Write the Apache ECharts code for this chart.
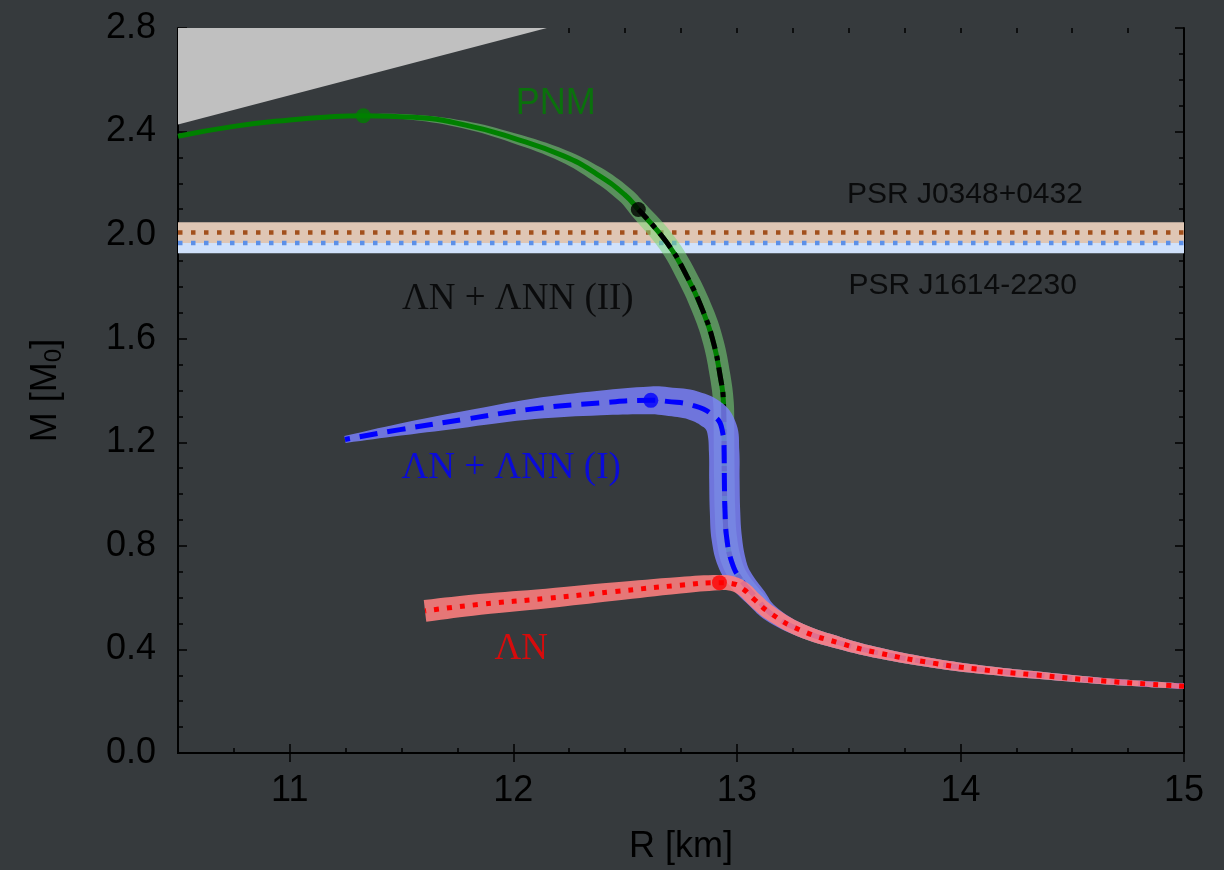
<!DOCTYPE html>
<html>
<head>
<meta charset="utf-8">
<script src="https://cdn.jsdelivr.net/npm/echarts@6/dist/echarts.min.js"></script>
<style>
  html, body { margin: 0; padding: 0; background: #363a3d; }
  #chart { width: 1224px; height: 870px; }
</style>
</head>
<body>
<div id="chart"></div>
<script>
// Mass–radius relations of neutron stars with hyperons (R in km, M in solar masses).

const xTicks = [11, 12, 13, 14, 15];

// Low-mass branch shared by every model
const commonR   = [15.0, 14.625, 14.327, 14.103, 13.879, 13.641, 13.462, 13.283];
const commonM   = [0.258, 0.279, 0.302, 0.321, 0.347, 0.385, 0.424, 0.475];
const commonErr = [0.012, 0.014, 0.017, 0.019, 0.021, 0.024, 0.027, 0.030]; // band half-width, km

// Pure neutron matter
const pnmR = [13.15, 13.089, 13.014, 12.977, 12.955, 12.947, 12.944, 12.943, 12.942, 12.94, 12.925, 12.895,
              12.851, 12.776, 12.687, 12.559, 12.497, 12.373, 12.224, 12.0, 11.777, 11.553, 11.329, 11.18,
              11.0, 10.75, 10.5];
const pnmM = [0.540, 0.597, 0.674, 0.738, 0.828, 0.931, 1.059, 1.162, 1.26, 1.354, 1.457, 1.586,
              1.701, 1.842, 1.971, 2.099, 2.157, 2.236, 2.306, 2.375, 2.427, 2.455, 2.461, 2.457,
              2.445, 2.420, 2.382];
const pnmErr = [0.031, 0.036, 0.040, 0.045, 0.046, 0.046, 0.046, 0.046, 0.046, 0.046, 0.046, 0.046,
                0.046, 0.045, 0.043, 0.040, 0.037, 0.034, 0.028, 0.022, 0.017, 0.012, 0.007, 0.0,
                0.0, 0.0, 0.0];

// ΛN + ΛNN (II)
const lam2R = [13.15, 13.089, 13.014, 12.977, 12.955, 12.947, 12.944, 12.943, 12.942, 12.94, 12.925, 12.895,
               12.851, 12.776, 12.687, 12.559];
const lam2M = [0.540, 0.597, 0.674, 0.738, 0.828, 0.931, 1.059, 1.162, 1.26, 1.354, 1.457, 1.586,
               1.701, 1.842, 1.971, 2.099];

// ΛN + ΛNN (I)
const lam1R = [13.15, 13.089, 13.014, 12.977, 12.955, 12.947, 12.944, 12.943, 12.933, 12.895, 12.806, 12.687,
               12.615, 12.388, 12.09, 11.792, 11.493, 11.247];
const lam1M = [0.540, 0.597, 0.674, 0.738, 0.828, 0.931, 1.059, 1.162, 1.252, 1.303, 1.342, 1.358,
               1.362, 1.352, 1.329, 1.290, 1.249, 1.211];
const lam1Err = [0.038, 0.047, 0.056, 0.064, 0.068, 0.068, 0.068, 0.068, 0.068, 0.068, 0.066, 0.064,
                 0.062, 0.055, 0.046, 0.037, 0.027, 0.016];

// ΛN only
const lamR = [13.15, 13.075, 13.03, 12.98, 12.922, 12.746, 12.448, 12.15, 11.851, 11.605];
const lamM = [0.540, 0.595, 0.632, 0.654, 0.658, 0.648, 0.623, 0.597, 0.574, 0.549];
const lamErr = [0.033, 0.033, 0.033, 0.033, 0.034, 0.037, 0.041, 0.044, 0.047, 0.049];

// Causality-excluded region boundary
const causalR = [10.5, 12.15];
const causalM = [2.427, 2.8];

// Measured pulsar masses
const pulsarNames = ['PSR J0348+0432', 'PSR J1614-2230'];
const pulsarMass  = [2.01, 1.97];
const pulsarErr   = [0.04, 0.04];

const X_MIN = 10.5, X_MAX = 15;
const SANS = '"Liberation Sans", Arial, Helvetica, sans-serif';
const SERIF = '"Liberation Serif", "Times New Roman", serif';

const pulsarBandColors = ['#dfc6b4', '#d0e1fb'];
const pulsarLineColors = ['#a2501c', '#5c90e8'];

function full(branchR, branchM) {
  return commonR.map((r, i) => [r, commonM[i]]).concat(branchR.map((r, i) => [r, branchM[i]]));
}
function fullErr(branchErr) { return commonErr.concat(branchErr); }

const pnm = full(pnmR, pnmM), lam2 = full(lam2R, lam2M), lam1 = full(lam1R, lam1M), lam = full(lamR, lamM);

function argmaxPoint(pts) {
  let best = pts[0];
  pts.forEach(p => { if (p[1] >= best[1]) best = p; });
  return best;
}

// Translucent uncertainty band drawn around a curve, with square ends
function bandSeries(pts, errs, fill, z) {
  return {
    type: 'custom', z: z, silent: true, clip: true,
    data: [pts[0]],
    renderItem: function (params, api) {
      const px = pts.map(p => api.coord(p));
      const hw = errs.map(e => api.size([e, 0])[0]);
      const up = [], lo = [];
      for (let i = 0; i < px.length; i++) {
        const a = px[Math.max(0, i - 1)], b = px[Math.min(px.length - 1, i + 1)];
        const dx = b[0] - a[0], dy = b[1] - a[1];
        const len = Math.hypot(dx, dy) || 1;
        const nx = -dy / len, ny = dx / len;
        up.push([px[i][0] + nx * hw[i], px[i][1] + ny * hw[i]]);
        lo.push([px[i][0] - nx * hw[i], px[i][1] - ny * hw[i]]);
      }
      lo.reverse();
      // repeat the corner points so the smoothed outline keeps sharp ends
      const outline = [up[0]].concat(up, [up[up.length - 1]], [lo[0]], lo, [lo[lo.length - 1]]);
      return {
        type: 'polygon',
        shape: { points: outline, smooth: 0.4 },
        style: { fill: fill }
      };
    }
  };
}

function curveSeries(pts, color, dash, z) {
  return {
    type: 'line', z: z, silent: true, data: pts, symbol: 'none', smooth: 0.5,
    lineStyle: { color: color, width: 5, type: dash, cap: 'butt' }
  };
}

const labelSpecs = [
  { text: 'PNM', at: [12.19, 2.505], color: '#008000', font: SANS, size: 36 },
  { text: 'ΛN + ΛNN (II)', at: [12.02, 1.753], color: '#000000', font: SERIF, size: 37 },
  { text: 'ΛN + ΛNN (I)', at: [11.99, 1.098], color: '#0000ff', font: SERIF, size: 37 },
  { text: 'ΛN', at: [12.035, 0.401], color: '#ff0000', font: SERIF, size: 37 },
  { text: pulsarNames[0], at: [14.02, 2.157], color: '#000000', font: SANS, size: 30 },
  { text: pulsarNames[1], at: [14.01, 1.803], color: '#000000', font: SANS, size: 30 }
];

const axisLineStyle = { color: '#000', width: 2 };
const tickStyle = { color: '#000', width: 1.5 };

const option = {
  backgroundColor: '#363a3d',
  animation: false,
  grid: { left: 178, right: 40, top: 28, bottom: 115 },
  xAxis: [
    {
      type: 'value', min: X_MIN, max: X_MAX, position: 'bottom',
      axisLine: { show: true, lineStyle: axisLineStyle },
      axisTick: { show: true, inside: true, length: 9, lineStyle: tickStyle, customValues: xTicks },
      axisLabel: { color: '#000', fontSize: 36, fontFamily: SANS, margin: 20, customValues: xTicks },
      splitLine: { show: false },
      name: 'R [km]', nameLocation: 'middle', nameGap: 76,
      nameTextStyle: { color: '#000', fontSize: 36, fontFamily: SANS }
    },
    {
      type: 'value', min: X_MIN, max: X_MAX, position: 'top',
      axisLine: { show: true, lineStyle: axisLineStyle },
      axisTick: { show: true, inside: true, length: 9, lineStyle: tickStyle, customValues: xTicks },
      axisLabel: { show: false }, splitLine: { show: false }
    },
    {
      type: 'value', min: X_MIN, max: X_MAX, interval: 0.25, position: 'bottom',
      axisLine: { show: false },
      axisTick: { show: true, inside: true, length: 5, lineStyle: tickStyle },
      axisLabel: { show: false }, splitLine: { show: false }
    },
    {
      type: 'value', min: X_MIN, max: X_MAX, interval: 0.25, position: 'top',
      axisLine: { show: false },
      axisTick: { show: true, inside: true, length: 5, lineStyle: tickStyle },
      axisLabel: { show: false }, splitLine: { show: false }
    }
  ],
  yAxis: [
    {
      type: 'value', min: 0, max: 2.8, interval: 0.4, position: 'left',
      axisLine: { show: true, lineStyle: axisLineStyle },
      axisTick: { show: true, inside: true, length: 9, lineStyle: tickStyle },
      minorTick: { show: true, splitNumber: 4, length: 5, lineStyle: tickStyle },
      axisLabel: { color: '#000', fontSize: 36, fontFamily: SANS, margin: 22, formatter: v => v.toFixed(1) },
      splitLine: { show: false }, minorSplitLine: { show: false },
      name: '{a|M [M}{s|0}{a|]}', nameLocation: 'middle', nameGap: 112,
      nameTextStyle: {
        color: '#000', fontSize: 36, fontFamily: SANS,
        rich: {
          a: { color: '#000', fontSize: 36, fontFamily: SANS },
          s: { color: '#000', fontSize: 24, fontFamily: SANS, padding: [16, 0, 0, 0] }
        }
      }
    },
    {
      type: 'value', min: 0, max: 2.8, interval: 0.4, position: 'right',
      axisLine: { show: true, lineStyle: axisLineStyle },
      axisTick: { show: true, inside: true, length: 9, lineStyle: tickStyle },
      minorTick: { show: true, splitNumber: 4, length: 5, lineStyle: tickStyle },
      axisLabel: { show: false }, splitLine: { show: false }
    }
  ],
  series: [
    // causality-excluded wedge
    {
      type: 'line', z: 1, silent: true, symbol: 'none',
      data: causalR.map((r, i) => [r, causalM[i]]),
      lineStyle: { width: 0 },
      areaStyle: { color: '#c0c0c0', opacity: 1, origin: 'end' }
    },
    // pulsar mass bands (J1614 first so J0348 lies over it)
    {
      type: 'custom', z: 2, silent: true,
      data: [1, 0].map(i => ({ value: [X_MIN, pulsarMass[i], pulsarErr[i], i] })),
      renderItem: function (params, api) {
        const cs = params.coordSys;
        const i = api.value(3);
        const top = api.coord([X_MIN, api.value(1) + api.value(2)])[1];
        const bot = api.coord([X_MIN, api.value(1) - api.value(2)])[1];
        return { type: 'rect', shape: { x: cs.x, y: top, width: cs.width, height: bot - top },
                 style: { fill: pulsarBandColors[i] } };
      }
    },
    {
      type: 'custom', z: 3, silent: true,
      data: [0, 1].map(i => ({ value: [X_MIN, pulsarMass[i], i] })),
      renderItem: function (params, api) {
        const cs = params.coordSys;
        const i = api.value(2);
        const y = api.coord([X_MIN, api.value(1)])[1];
        return { type: 'line', shape: { x1: cs.x, y1: y, x2: cs.x + cs.width, y2: y },
                 style: { stroke: pulsarLineColors[i], lineWidth: 4.5, lineDash: [4.5, 8.5] } };
      }
    },
    bandSeries(pnm, fullErr(pnmErr), 'rgba(120,215,120,0.55)', 4),
    curveSeries(pnm, '#008000', 'solid', 5),
    curveSeries(lam2, '#000000', [18, 7, 5, 7], 6),
    bandSeries(lam1, fullErr(lam1Err), 'rgba(125,130,255,0.82)', 7),
    curveSeries(lam1, '#0000ff', [18, 10], 8),
    bandSeries(lam, fullErr(lamErr), 'rgba(255,128,128,0.88)', 9),
    curveSeries(lam, '#ff0000', [5, 8], 10),
    // maximum-mass markers
    {
      type: 'scatter', z: 11, silent: true, symbol: 'circle', symbolSize: 15,
      data: [
        { value: argmaxPoint(pnm), itemStyle: { color: '#008000' } },
        { value: argmaxPoint(lam2), itemStyle: { color: '#000000' } },
        { value: argmaxPoint(lam1), itemStyle: { color: '#0000ff' } },
        { value: argmaxPoint(lam), itemStyle: { color: '#ff0000' } }
      ]
    },
    // text annotations
    {
      type: 'scatter', z: 12, silent: true, symbolSize: 0,
      data: labelSpecs.map(s => ({
        value: s.at,
        label: { show: true, position: 'inside', formatter: s.text, color: s.color,
                 fontFamily: s.font, fontSize: s.size }
      }))
    }
  ]
};

const chart = echarts.init(document.getElementById('chart'), null, { renderer: 'canvas' });
chart.setOption(option);
</script>
</body>
</html>
